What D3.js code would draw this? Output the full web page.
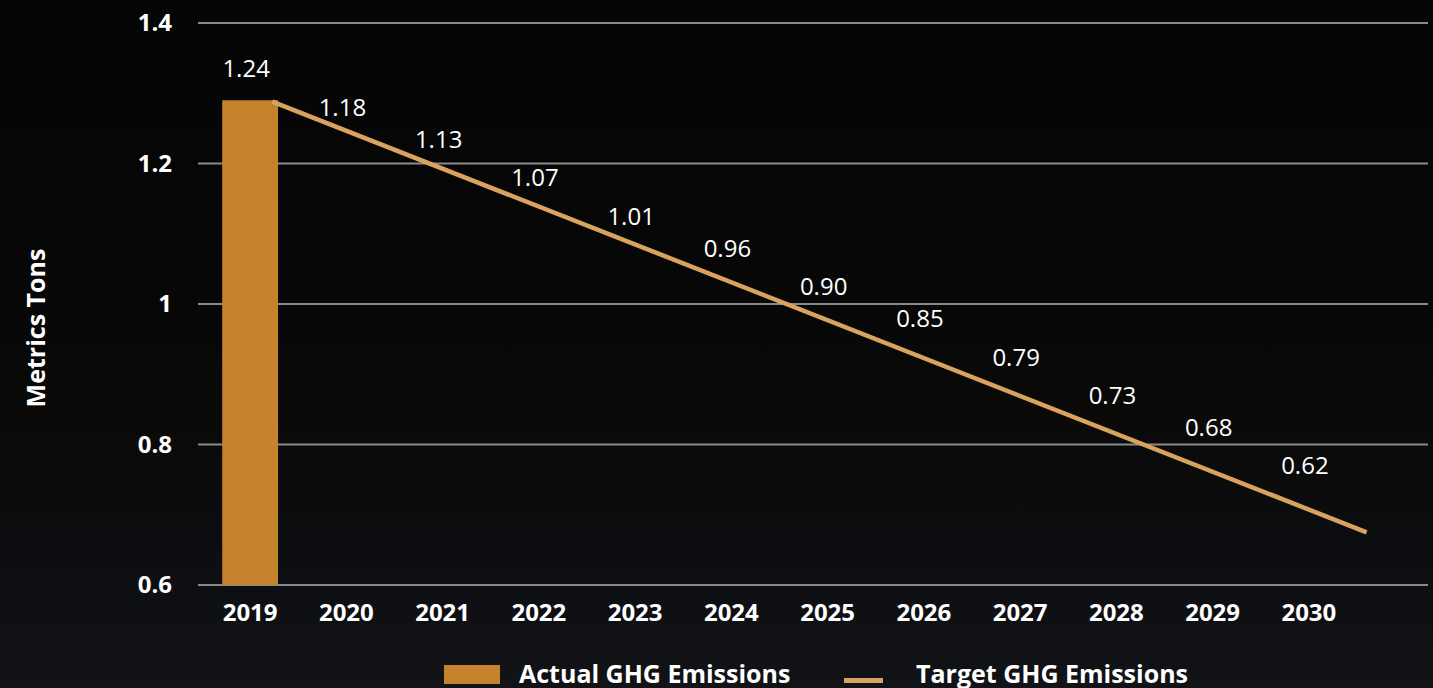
<!DOCTYPE html>
<html><head><meta charset="utf-8">
<script src="https://cdn.jsdelivr.net/npm/d3@7/dist/d3.min.js"></script>
<style>html,body{margin:0;padding:0;background:#060606;}svg{display:block;}</style>
</head><body><svg id="c" width="1433" height="688"></svg>
<script>
const years = ["2019","2020","2021","2022","2023","2024","2025","2026","2027","2028","2029","2030"];
const actualYears = ["2019"];
const actualValues = [1.29];
const targetLabels = [1.24,1.18,1.13,1.07,1.01,0.96,0.90,0.85,0.79,0.73,0.68,0.62];
const targetLineYears = [2019.23, 2030.6];
const targetLineValues = [1.288, 0.675];
const yTicks = [0.6,0.8,1,1.2,1.4];
const yTickLabels = ["0.6","0.8","1","1.2","1.4"];
const legendNames = ["Actual GHG Emissions","Target GHG Emissions"];

const W=1433,H=688;
const svg=d3.select("#c");
const defs=svg.append("defs");
const g1=defs.append("linearGradient").attr("id","bg").attr("x1",0).attr("y1",0).attr("x2",0).attr("y2",1);
g1.append("stop").attr("offset","0%").attr("stop-color","#050505");
g1.append("stop").attr("offset","45%").attr("stop-color","#070707");
g1.append("stop").attr("offset","62%").attr("stop-color","#0b0a09");
g1.append("stop").attr("offset","78%").attr("stop-color","#0c0d10");
g1.append("stop").attr("offset","100%").attr("stop-color","#111316");
svg.append("rect").attr("width",W).attr("height",H).attr("fill","url(#bg)");

const font="'Open Sans', 'Noto Sans', sans-serif";
const plotL=198, plotR=1428, plotT=23, plotB=585;
const y=d3.scaleLinear().domain([0.6,1.4]).range([plotB,plotT]);
const x=d3.scaleBand().domain(years).range([202,1357]).paddingInner(0.42).paddingOuter(0.21);
const step=x.step();
const xYear=v=>x(years[0])+x.bandwidth()/2+(v-(+years[0]))*step;
// secondary scale for target data labels
const yLab=d3.scaleLinear().domain([0.434,1.312]).range([plotB,plotT]);

// gridlines
svg.append("g").selectAll("line").data(yTicks).join("line")
  .attr("x1",plotL).attr("x2",plotR).attr("y1",d=>y(d)).attr("y2",d=>y(d))
  .attr("stroke","#8a8a8a").attr("stroke-width",2);

// y tick labels
svg.append("g").selectAll("text").data(yTicks).join("text")
  .attr("x",172).attr("y",d=>y(d)).attr("dy","0.35em").attr("text-anchor","end")
  .attr("fill","#fff").attr("font-family",font).attr("font-weight","bold").attr("font-size",24)
  .text((d,i)=>yTickLabels[i]);

// x tick labels
svg.append("g").selectAll("text").data(years).join("text")
  .attr("x",d=>x(d)+x.bandwidth()/2).attr("y",613).attr("dy","0.35em").attr("text-anchor","middle")
  .attr("fill","#fff").attr("font-family",font).attr("font-weight","bold").attr("font-size",24)
  .text(d=>d);

// axis title
svg.append("text").attr("transform","translate(36,328) rotate(-90)").attr("dy","0.35em").attr("text-anchor","middle")
  .attr("fill","#fff").attr("font-family",font).attr("font-weight","bold").attr("font-size",25)
  .text("Metrics Tons");

// bars
svg.append("g").selectAll("rect").data(actualValues).join("rect")
  .attr("x",(d,i)=>x(actualYears[i])).attr("width",x.bandwidth())
  .attr("y",d=>y(d)).attr("height",d=>y(0.6)-y(d)).attr("fill","#c5832d");

// target line
const pts=targetLineYears.map((yr,i)=>[xYear(yr),y(targetLineValues[i])]);
svg.append("path").attr("d",d3.line()(pts)).attr("stroke","#d9a25f").attr("stroke-width",4.5).attr("fill","none");

// data labels
svg.append("g").selectAll("text").data(targetLabels).join("text")
  .attr("x",(d,i)=>x(years[i])+x.bandwidth()/2-4).attr("y",d=>yLab(d)).attr("dy","0.35em")
  .attr("text-anchor","middle").attr("fill","#fff").attr("font-family",font).attr("font-size",24)
  .text(d=>d.toFixed(2));

// legend
const lg=svg.append("g");
lg.append("rect").attr("x",444).attr("y",665).attr("width",56).attr("height",19).attr("fill","#c5832d");
lg.append("text").attr("x",519).attr("y",674).attr("dy","0.35em").attr("fill","#fff").attr("font-family",font).attr("font-weight","bold").attr("font-size",25).text(legendNames[0]);
lg.append("line").attr("x1",844).attr("x2",883).attr("y1",680.5).attr("y2",680.5).attr("stroke","#d9a25f").attr("stroke-width",5);
lg.append("text").attr("x",916).attr("y",674).attr("dy","0.35em").attr("fill","#fff").attr("font-family",font).attr("font-weight","bold").attr("font-size",25).text(legendNames[1]);
</script></body></html>
